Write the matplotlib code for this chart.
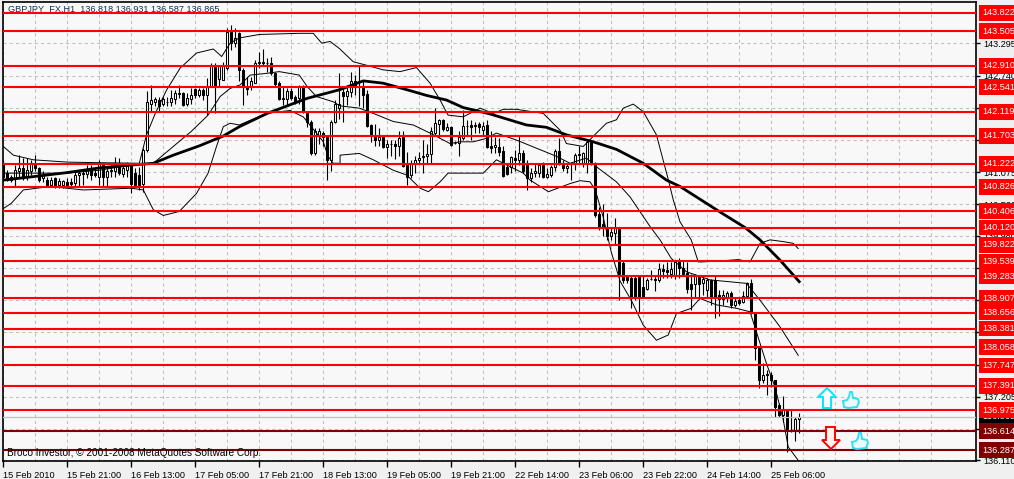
# GBPJPY H1 candles with bands, moving average and support/resistance lines
import matplotlib
matplotlib.use('Agg')
import matplotlib.pyplot as plt
from matplotlib.patches import Polygon
from matplotlib.transforms import blended_transform_factory, IdentityTransform

opens = [141.23,141.06,141.00,140.97,141.09,141.14,141.00,141.10,141.23,141.14,
140.97,140.95,140.86,140.97,140.86,140.86,140.90,140.91,140.885,141.03,
141.05,141.05,141.14,141.06,141.00,141.20,141.00,141.09,141.10,141.20,
141.05,141.11,141.19,141.06,141.03,140.87,141.46,142.26,142.29,142.32,
142.25,142.29,142.29,142.33,142.43,142.44,142.25,142.34,142.51,142.41,
142.49,142.41,142.55,142.91,142.68,142.67,142.87,143.50,143.31,143.48,
142.84,142.55,142.54,142.62,142.95,142.98,142.95,142.95,142.78,142.61,
142.33,142.33,142.48,142.37,142.35,142.54,142.10,141.95,141.40,141.72,
141.75,141.69,141.28,141.95,142.18,142.46,142.39,142.46,142.64,142.64,
142.54,142.42,141.89,141.72,141.63,141.69,141.51,141.57,141.57,141.52,
141.68,141.20,141.03,141.23,141.28,141.34,141.35,141.39,141.76,141.91,
141.97,141.80,141.85,141.58,141.58,141.66,141.87,141.89,141.87,141.91,
141.80,141.89,141.53,141.51,141.51,141.45,141.17,141.17,141.32,141.28,
141.41,141.20,140.97,141.06,141.07,141.20,141.00,141.03,141.17,141.45,
141.24,141.14,141.23,141.23,141.37,141.23,141.23,141.60,141.24,140.36,
140.18,140.09,139.98,140.02,140.11,139.51,139.28,139.25,139.25,139.28,
139.10,139.06,139.23,139.23,139.21,139.40,139.39,139.32,139.30,139.53,
139.42,139.34,139.15,139.15,139.29,139.16,139.05,139.21,139.22,138.96,
138.89,138.90,139.00,138.79,138.87,138.84,138.94,139.16,138.64,138.04,
137.49,137.60,137.58,137.49,137.06,136.89,136.96,136.64,136.63,136.818]
highs = [141.29,141.11,141.03,141.20,141.37,141.32,141.32,141.29,141.37,141.17,
141.09,141.00,141.00,141.00,140.97,140.95,140.97,140.97,141.09,141.09,
141.11,141.20,141.20,141.14,141.29,141.23,141.14,141.20,141.33,141.32,
141.23,141.26,141.23,141.14,141.17,141.49,142.47,142.58,142.38,142.38,
142.38,142.38,142.49,142.49,142.58,142.46,142.44,142.52,142.52,142.52,
142.52,142.70,142.95,142.95,142.93,142.98,143.56,143.62,143.56,143.50,
142.87,142.71,142.72,143.01,143.15,143.20,143.04,143.07,142.81,142.64,
142.54,142.52,142.52,142.41,142.58,142.58,142.12,141.98,141.83,141.83,
141.78,141.70,141.98,142.32,142.78,142.52,142.58,142.81,142.75,142.90,
142.64,142.49,141.91,141.91,141.83,141.72,141.63,141.63,141.63,141.78,
141.78,141.43,141.28,141.35,141.43,141.63,141.57,141.86,142.19,142.00,
142.00,141.93,141.87,141.62,141.78,142.15,141.98,141.97,141.95,141.95,
141.95,141.98,141.78,141.69,141.66,141.52,141.23,141.35,141.46,141.72,
141.46,141.29,141.14,141.22,141.23,141.26,141.14,141.20,141.47,141.66,
141.29,141.23,141.26,141.40,141.52,141.43,141.63,141.63,141.26,140.48,
140.53,140.37,140.11,140.28,140.14,139.56,139.30,139.28,139.28,139.29,
139.28,139.26,139.39,139.30,139.51,139.49,139.53,139.53,139.56,139.59,
139.55,139.53,139.33,139.33,139.30,139.29,139.25,139.23,139.30,139.05,
139.05,139.02,139.02,138.90,138.93,139.02,139.19,139.23,138.67,138.07,
137.78,137.67,137.64,137.50,137.09,137.21,136.98,136.98,136.86,136.931]
lows = [140.97,140.92,140.91,140.83,140.97,140.94,140.94,141.03,141.09,140.91,
140.91,140.83,140.83,140.80,140.80,140.80,140.83,140.83,140.83,140.83,
140.86,140.97,140.94,141.00,140.86,140.84,140.83,141.00,141.00,141.03,
141.00,141.00,140.71,140.83,140.77,140.74,141.43,142.12,142.21,142.12,
142.21,142.22,142.22,142.26,142.35,142.21,142.21,142.26,142.35,142.38,
142.32,142.06,142.54,142.09,142.55,142.67,142.84,143.18,143.24,142.64,
142.24,142.41,142.49,142.61,142.87,142.90,142.81,142.75,142.54,142.32,
142.24,142.22,142.32,142.26,142.26,142.09,141.86,141.37,141.37,141.57,
141.52,140.94,141.09,141.92,142.00,141.95,142.24,142.38,142.41,142.21,
142.18,141.86,141.60,141.52,141.52,141.49,141.32,141.35,141.30,141.35,
141.17,140.86,140.97,141.06,141.23,141.07,141.23,141.23,141.72,141.69,
141.78,141.78,141.53,141.56,141.36,141.63,141.72,141.63,141.75,141.75,
141.72,141.49,141.40,141.41,141.35,141.00,141.03,141.06,141.09,141.20,
141.06,140.77,140.91,141.00,141.00,140.97,140.97,141.00,141.09,141.20,
141.09,141.06,140.94,141.11,141.23,141.17,141.06,141.20,140.31,140.08,
139.97,139.91,139.91,139.82,138.87,139.16,139.16,138.73,138.87,138.67,
138.90,139.05,139.21,139.02,139.19,139.25,139.25,139.25,139.23,139.25,
139.30,138.99,138.70,138.93,138.90,138.96,138.90,138.79,138.56,138.59,
138.79,138.84,138.73,138.76,138.79,138.82,138.90,138.64,137.84,137.35,
137.44,137.24,137.38,136.86,136.86,136.77,136.26,136.60,136.45,136.587]
closes = [141.00,140.94,140.94,141.11,141.14,140.97,141.11,141.24,141.14,140.94,
141.03,140.86,140.94,140.86,140.93,140.93,140.86,140.87,141.03,141.07,
141.07,141.13,141.03,141.03,141.23,141.00,141.10,141.11,141.17,141.07,
141.14,141.18,140.87,140.86,140.86,141.46,142.29,142.32,142.33,142.22,
142.33,142.29,142.35,142.44,142.44,142.24,142.35,142.41,142.41,142.49,
142.41,142.54,142.91,142.58,142.90,142.90,143.50,143.30,143.39,142.84,
142.55,142.51,142.64,142.95,142.98,142.95,142.96,142.78,142.60,142.33,
142.35,142.48,142.35,142.29,142.54,142.12,141.95,141.40,141.79,141.78,
141.69,141.28,141.95,142.26,142.26,142.39,142.48,142.64,142.54,142.64,
142.41,141.87,141.72,141.63,141.68,141.51,141.57,141.57,141.52,141.66,
141.18,141.00,141.24,141.28,141.32,141.35,141.39,141.78,141.92,141.98,
141.82,141.85,141.55,141.58,141.68,141.87,141.87,141.85,141.89,141.85,
141.87,141.51,141.49,141.54,141.43,141.01,141.05,141.33,141.28,141.40,
141.09,140.97,141.07,141.09,141.20,141.00,141.05,141.17,141.45,141.23,
141.14,141.18,141.23,141.37,141.39,141.41,141.60,141.23,140.34,140.14,
140.13,139.98,140.05,140.11,139.33,139.21,139.21,138.93,138.90,138.93,
138.92,139.22,139.23,139.21,139.40,139.38,139.36,139.40,139.53,139.42,
139.33,139.07,139.07,139.28,139.15,139.23,139.21,138.93,138.93,138.89,
138.96,138.99,138.79,138.86,138.83,138.94,139.16,138.67,138.04,137.49,
137.58,137.58,137.49,137.03,136.89,136.98,136.63,136.64,136.83,136.865]

upper_x = [0,2.5,7.5,16,24,34,35.8,38,40.8,44.2,48.3,52.5,54.6,56.7,59,64,74,77.5,79.6,81.7,84,
           87.5,90.8,95,99.2,103.3,106.7,109.2,111.2,115,119.2,122.5,125,128.3,135,139.2,140.8,145,
           148.3,150.8,153.3,155,157.5,160,163.3,166.3,167.5,169.2,172,173.75,174.6,178,183.75,186.7,
           189.2,191.7,195,197.5,198.75]
upper_y = [141.52,141.37,141.29,141.25,141.24,141.23,141.72,142.09,142.49,142.87,143.13,143.20,143.07,143.30,143.39,143.45,143.47,143.47,143.30,143.33,143.21,
           142.98,142.92,142.84,142.81,142.88,142.61,142.32,142.06,142.03,142.18,142.09,142.16,142.16,142.09,141.80,141.57,141.52,
           141.75,141.92,141.98,142.18,142.25,142.12,141.72,140.94,140.60,140.22,139.91,139.53,139.53,139.54,139.57,139.53,
           139.85,139.91,139.88,139.85,139.76]
middle_x = [0,7.5,16,24,32,37.5,42.5,47,51.2,54.2,56.7,59.2,61.7,65.8,69,74,76,78.3,82.5,84.2,
            89,92.5,97.5,102.5,106.7,111.7,114.2,117.5,120.8,123.3,128.3,133.3,138.3,141.7,145.8,148.3,
            153.3,156.7,161.7,164.2,167,170.8,176.7,185.8,189.2,194.2,198.75]
middle_y = [141.06,141.06,141.06,141.11,141.20,141.23,141.52,141.78,142.06,142.38,142.52,142.58,142.75,142.78,142.81,142.75,142.55,142.38,142.29,142.22,
            142.18,142.09,141.95,141.89,141.75,141.57,141.60,141.60,141.66,141.75,141.63,141.49,141.35,141.23,141.32,141.17,
            140.91,140.65,140.14,139.91,139.59,139.36,139.22,139.16,138.87,138.41,137.92]
lower_x = [0,2,5,11.7,20,28,32,35,37.5,40,44,48.3,51.2,53.3,55,56.7,59,65.8,71.7,75,77,78.3,80,81.2,82.5,84.2,
           84.2,89,92.5,97.5,100.8,104.2,106.3,109.2,111.2,120,123.3,125,130,131.7,136.3,141.7,144.2,146.7,
           148,150,152,154.2,157,158.75,160,163.3,166.25,168.3,172,174.2,178.3,183.3,186.7,187.9,190.8,192.9,195,196.25,198.75]
lower_y = [140.45,140.54,140.77,140.83,140.77,140.79,140.80,140.77,140.43,140.33,140.40,140.71,141.06,141.52,141.86,141.92,141.89,142.09,142.14,142.03,141.86,141.75,141.60,141.35,141.23,141.23,
           141.37,141.40,141.29,141.11,141.03,140.80,140.74,140.91,141.06,141.06,141.29,141.23,141.06,140.94,140.74,140.88,140.93,140.91,
           140.77,140.30,139.70,139.20,138.87,138.62,138.44,138.18,138.27,138.64,138.73,138.90,138.79,138.73,138.67,138.41,137.78,137.38,136.81,136.34,136.11]
ma_x = [0,7.5,16,24,32,37.5,42.5,49,55,59,66,71,76,84.2,90,95,100.8,105.8,110.8,115,121.7,130.8,135.8,140.8,147.5,
        153.3,160,165.8,169.2,179.2,185.5,189.2,194.2,199]
ma_y = [140.94,141.00,141.07,141.15,141.20,141.23,141.37,141.53,141.70,141.86,142.09,142.22,142.35,142.50,142.65,142.61,142.50,142.40,142.32,142.19,142.08,141.89,141.85,141.72,141.60,
        141.47,141.23,140.94,140.83,140.39,140.12,139.91,139.56,139.19]

level_prices = [143.822,143.505,142.910,142.541,142.119,141.703,141.222,140.826,140.406,140.120,
                139.822,139.539,139.283,138.907,138.656,138.381,138.058,137.747,137.391,136.975]
dark_prices = [136.614,136.287]
bid_price = 136.865
price_ticks = [143.295,142.740,142.185,141.630,141.075,140.520,139.980,139.425,138.870,138.315,137.760,137.205,136.650,136.110]
time_labels = ['15 Feb 2010','15 Feb 21:00','16 Feb 13:00','17 Feb 05:00','17 Feb 21:00','18 Feb 13:00','19 Feb 05:00',
               '19 Feb 21:00','22 Feb 14:00','23 Feb 06:00','23 Feb 22:00','24 Feb 14:00','25 Feb 06:00']

W, H = 1014, 479
plt.rcParams['font.family'] = ['Liberation Sans', 'DejaVu Sans']
plt.rcParams['font.size'] = 6.6

fig = plt.figure(figsize=(W/100, H/100), dpi=100, facecolor='#f0f0f0')
ax = fig.add_axes([3/W, 1-461/H, 973/W, 459/H], facecolor='#f8f8f8')
ax.set_xlim(-0.08, 243.2)
ax.set_ylim(136.098, 144.01)

# grid every 8 bars, labels every 16
ax.set_xticks(range(8, 240, 8), minor=True)
ax.set_xticks(range(0, 16*len(time_labels), 16))
ax.set_xticklabels(time_labels, ha='left')
ax.set_yticks(price_ticks)
ax.set_yticklabels(['%.3f' % p for p in price_ticks])
ax.yaxis.tick_right()
ax.tick_params(axis='x', which='major', length=4, width=1, pad=3, color='black')
ax.tick_params(axis='x', which='minor', length=0)
ax.tick_params(axis='y', length=3, width=1, pad=2, color='black')
ax.grid(True, which='both', color='#c0c0c0', linestyle=(0, (3, 3)), linewidth=0.75)
ax.set_axisbelow(True)
for s in ax.spines.values():
    s.set_linewidth(1.2)

# candles
for i in range(len(opens)):
    ax.plot([i, i], [lows[i], highs[i]], color='black', lw=0.8, zorder=3, solid_capstyle='butt')
    up = closes[i] >= opens[i]
    ax.bar(i, abs(closes[i]-opens[i]), bottom=min(opens[i], closes[i]), width=0.55,
           facecolor='white' if up else 'black', edgecolor='black', linewidth=0.75, zorder=3.1)

ax.plot(upper_x, upper_y, color='black', lw=0.7, zorder=3.2)
ax.plot(middle_x, middle_y, color='black', lw=0.7, zorder=3.2)
ax.plot(lower_x, lower_y, color='black', lw=0.7, zorder=3.2)
ax.plot(ma_x, ma_y, color='black', lw=2.0, zorder=3.3)

ax.axhline(bid_price, color='#c0c0c0', lw=0.9, zorder=3.4)
for p in level_prices:
    ax.axhline(p, color='#ff0000', lw=1.5, zorder=4)
for p in dark_prices:
    ax.axhline(p, color='#800000', lw=1.5, zorder=4)

# price tags right of the axis
trans = blended_transform_factory(ax.transAxes, ax.transData)
def tag(price, bg):
    ax.text(1.0068, price, '%.3f' % price, transform=trans, color='white', va='center', ha='left',
            clip_on=False, zorder=6, bbox=dict(facecolor=bg, edgecolor='none', pad=2.4))
tag(bid_price, 'black')
for p in level_prices:
    tag(p, '#ff0000')
for p in dark_prices:
    tag(p, '#800000')

ax.text(8/W, 1-9/H, 'GBPJPY_FX,H1  136.818 136.931 136.587 136.865', transform=fig.transFigure,
        color='#10305a', va='center', ha='left', zorder=2)
ax.text(7/W, 1-453/H, 'Broco Investor, \u00a9 2001-2008 MetaQuotes Software Corp.', transform=fig.transFigure,
        color='black', va='center', ha='left', zorder=5, fontsize=7.2)

# arrow and thumb icons, in screen pixels
def icon(points, ox, oy, edge, face):
    xy = [(ox+px, H-(oy+py)) for px, py in points]
    fig.add_artist(Polygon(xy, closed=True, transform=IdentityTransform(), edgecolor=edge,
                           facecolor=face, linewidth=1.4, zorder=7))

up_arrow = [(9,0),(18,9),(13,9),(13,20),(5,20),(5,9),(0,9)]
down_arrow = [(4,0),(13,0),(13,13),(18,13),(9,22),(0,13),(4,13)]
thumb = [(0,9),(4,8),(6,5),(7,0),(9,0),(10,6),(15,7),(16,10),(14,15),(5,16),(1,15)]
icon(up_arrow, 818, 388, '#00e8ff', 'white')
icon(down_arrow, 822, 427, '#ff0000', '#fff4ec')
icon(thumb, 843, 392, '#30e0f0', '#e8fcff')
icon(thumb, 852, 433, '#30e0f0', '#e8fcff')

fig.savefig('out.png', dpi=100, facecolor=fig.get_facecolor())
